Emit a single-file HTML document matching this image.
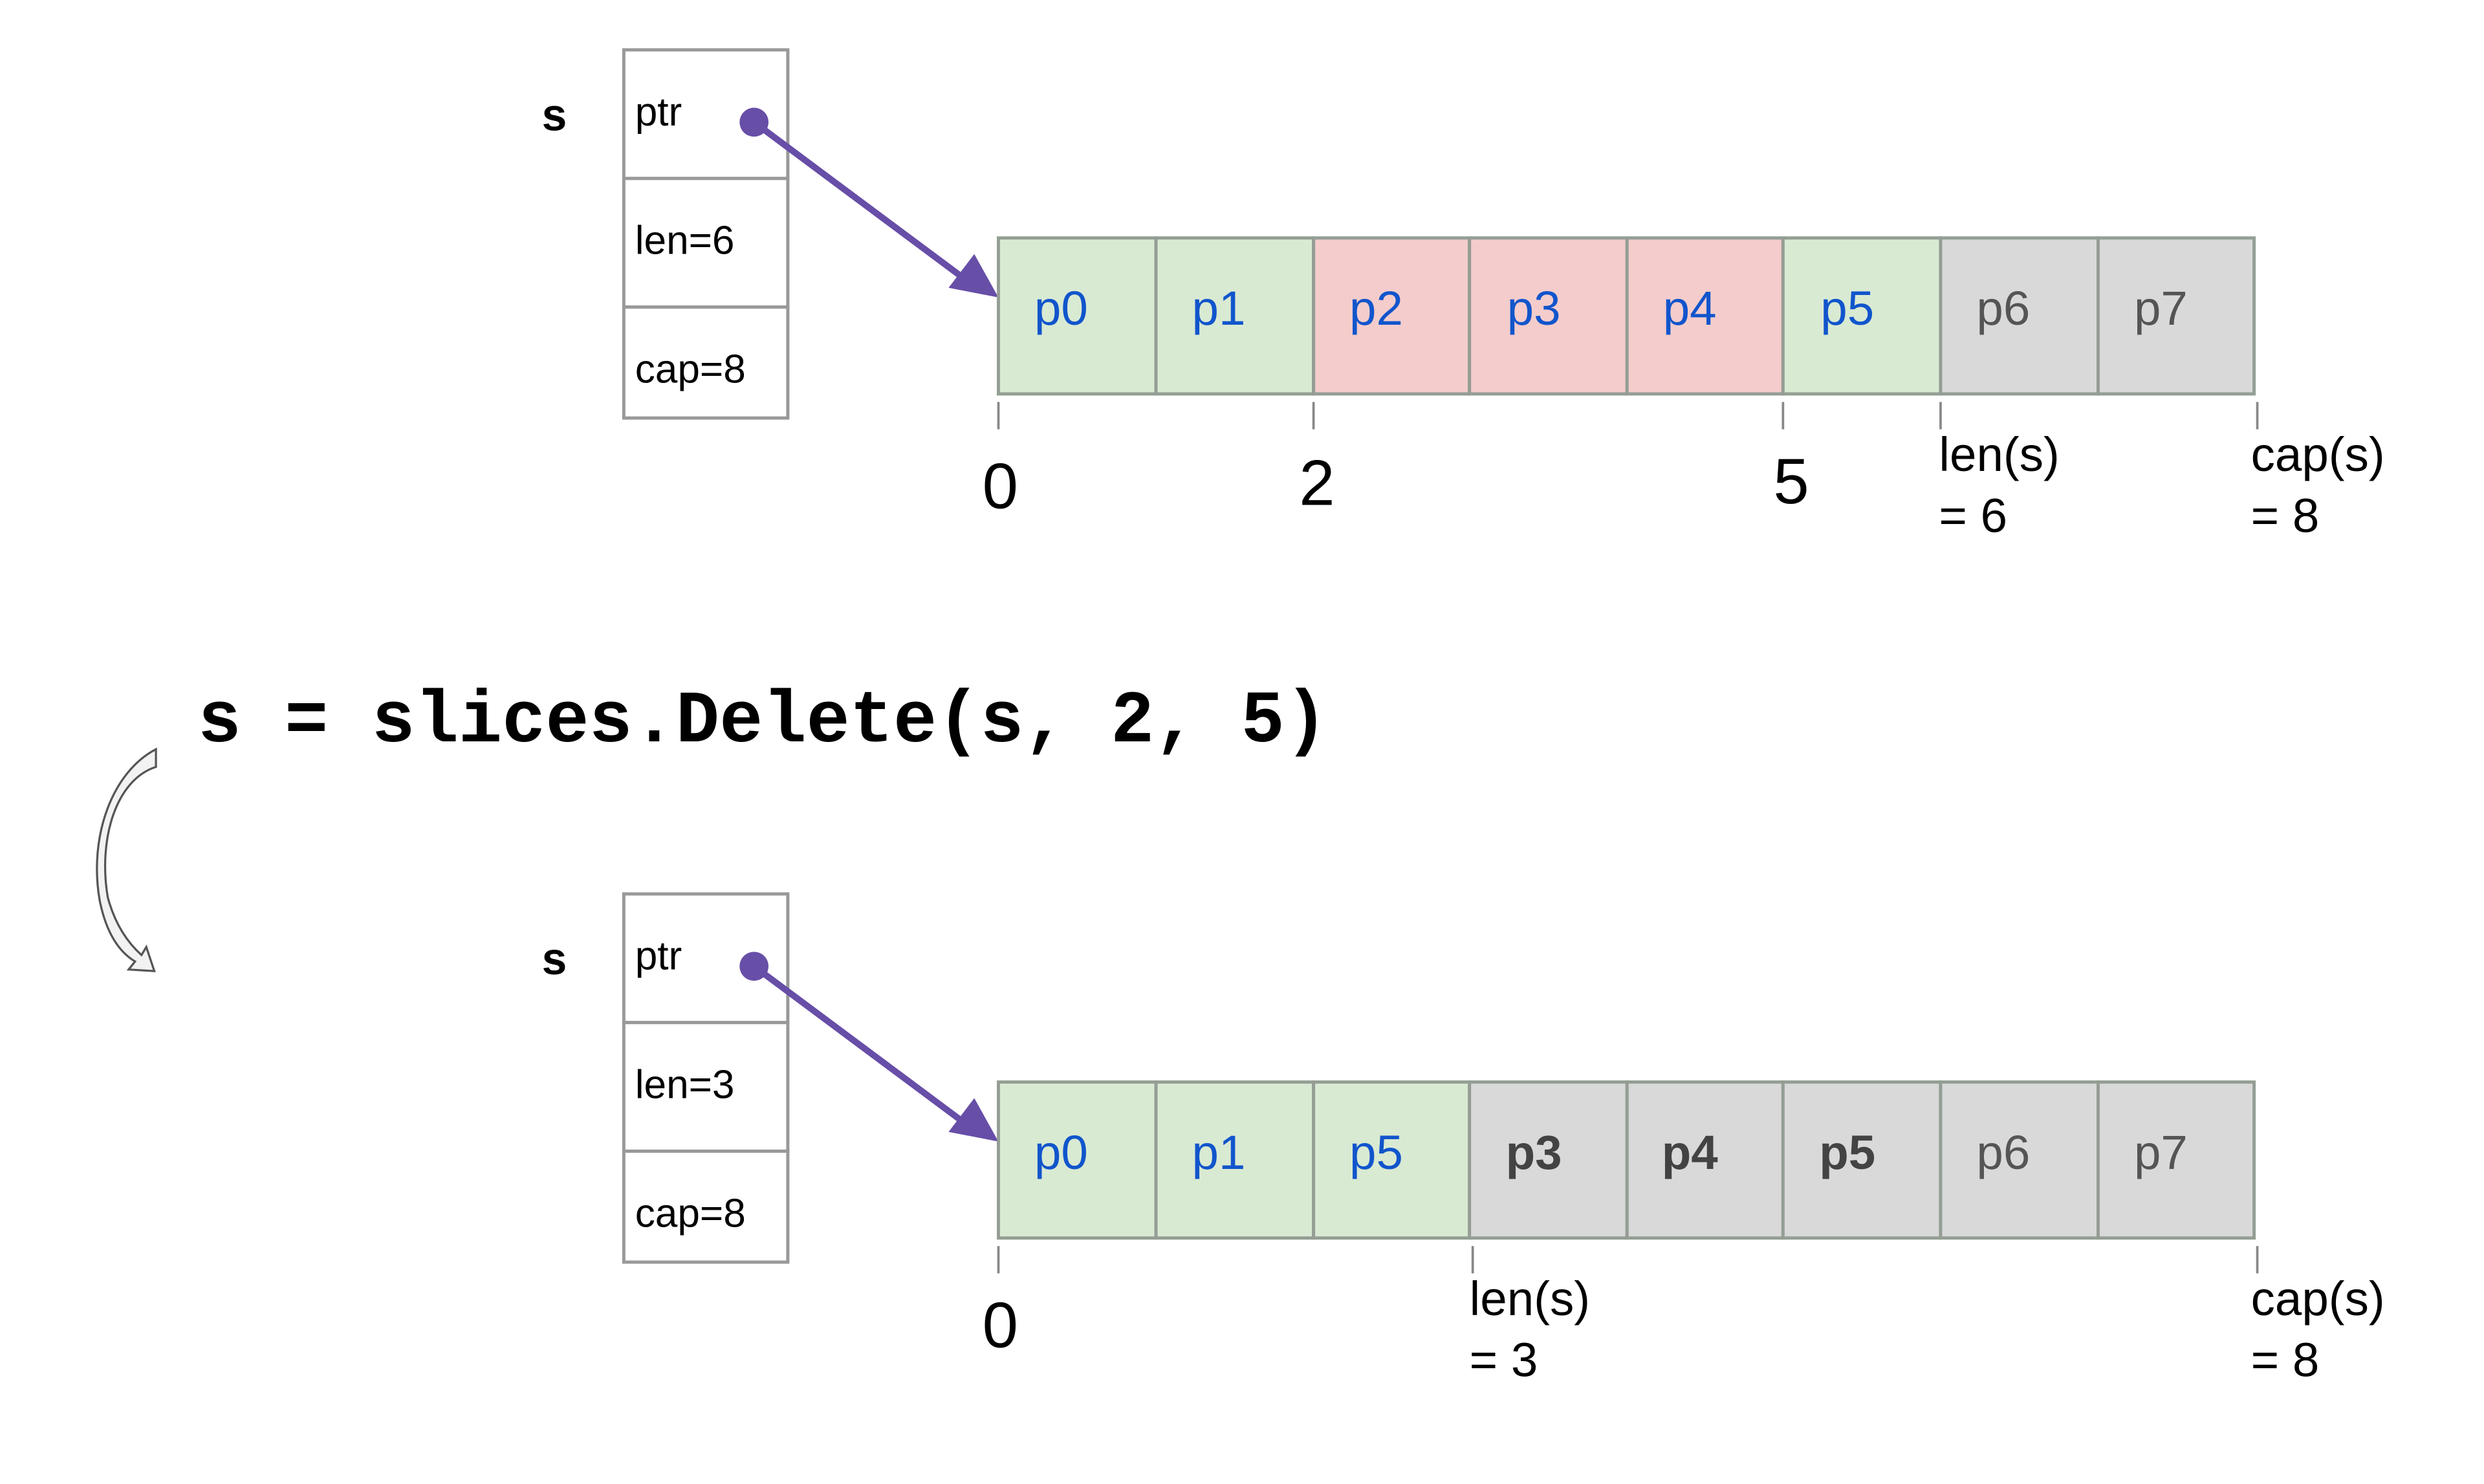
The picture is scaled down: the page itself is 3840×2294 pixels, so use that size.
<!DOCTYPE html>
<html><head><meta charset="utf-8"><style>html,body{margin:0;padding:0;background:#fff;width:3840px;height:2294px;overflow:hidden}</style></head>
<body>
<svg width="3840" height="2294" viewBox="0 0 1545 923" preserveAspectRatio="none" xmlns="http://www.w3.org/2000/svg" font-family="Liberation Sans, sans-serif">
<!-- top struct -->
<text x="337" y="81" font-size="28" font-weight="bold" fill="#000">s</text>
<g fill="#fff" stroke="#999" stroke-width="2">
<rect x="388" y="31" width="102" height="80"/><rect x="388" y="111" width="102" height="80"/><rect x="388" y="191" width="102" height="69"/>
<rect x="388" y="556" width="102" height="80"/><rect x="388" y="636" width="102" height="80"/><rect x="388" y="716" width="102" height="69"/>
</g>
<g font-size="25" fill="#000">
<text x="395" y="78">ptr</text><text x="395" y="158">len=6</text><text x="395" y="238">cap=8</text>
<text x="395" y="603">ptr</text><text x="395" y="683">len=3</text><text x="395" y="763">cap=8</text>
</g>
<text x="337" y="606" font-size="28" font-weight="bold" fill="#000">s</text>
<!-- arrows -->
<g stroke="#674ea7" stroke-width="4" fill="#674ea7">
<circle cx="469" cy="76" r="9" stroke="none"/>
<line x1="469" y1="76" x2="598" y2="172"/>
<path d="M621,185 L590,179 L606,158 z" stroke="none"/>
<circle cx="469" cy="601" r="9" stroke="none"/>
<line x1="469" y1="601" x2="598" y2="697"/>
<path d="M621,710 L590,704 L606,683 z" stroke="none"/>
</g>
<!-- top array -->
<g stroke="#949e94" stroke-width="2">
<rect x="621" y="148" width="98" height="97" fill="#d9ead3"/>
<rect x="719" y="148" width="98" height="97" fill="#d9ead3"/>
<rect x="817" y="148" width="97" height="97" fill="#f4cccc"/>
<rect x="914" y="148" width="98" height="97" fill="#f4cccc"/>
<rect x="1012" y="148" width="97" height="97" fill="#f4cccc"/>
<rect x="1109" y="148" width="98" height="97" fill="#d9ead3"/>
<rect x="1207" y="148" width="98" height="97" fill="#d9d9d9"/>
<rect x="1305" y="148" width="97" height="97" fill="#d9d9d9"/>
</g>
<g font-size="30" fill="#1155cc" text-anchor="middle">
<text x="660" y="202">p0</text><text x="758" y="202">p1</text><text x="856" y="202">p2</text><text x="954" y="202">p3</text><text x="1051" y="202">p4</text><text x="1149" y="202">p5</text>
<text x="1246" y="202" fill="#555">p6</text><text x="1344" y="202" fill="#555">p7</text>
</g>
<g stroke="#888" stroke-width="1.5">
<line x1="621" y1="250" x2="621" y2="267"/><line x1="817" y1="250" x2="817" y2="267"/><line x1="1109" y1="250" x2="1109" y2="267"/><line x1="1207" y1="250" x2="1207" y2="267"/><line x1="1404" y1="250" x2="1404" y2="267"/>
<line x1="621" y1="775" x2="621" y2="792"/><line x1="916" y1="775" x2="916" y2="792"/><line x1="1404" y1="775" x2="1404" y2="792"/>
</g>
<g font-size="40" fill="#000">
<text x="611" y="316">0</text><text x="808" y="314">2</text><text x="1103" y="313">5</text>
<text x="611" y="838">0</text>
</g>
<g font-size="30" fill="#000">
<text x="1206" y="293">len(s)</text><text x="1206" y="331">= 6</text>
<text x="1400" y="293">cap(s)</text><text x="1400" y="331">= 8</text>
<text x="914" y="818">len(s)</text><text x="914" y="856">= 3</text>
<text x="1400" y="818">cap(s)</text><text x="1400" y="856">= 8</text>
</g>
<!-- code -->
<text x="123" y="461" font-family="Liberation Mono, monospace" font-weight="bold" font-size="46" textLength="703" lengthAdjust="spacingAndGlyphs" fill="#000">s = slices.Delete(s, 2, 5)</text>
<!-- curved arrow -->
<path d="M97,466 C70,480 55,520 62,560 C66,580 74,592 84,598 L80,603 L96,604 L91,589 L88,594 C78,585 71,573 67,558 C61,522 72,485 97,477 z" fill="#f2f2f2" stroke="#555" stroke-width="1.3"/>
<!-- bottom array -->
<g stroke="#949e94" stroke-width="2">
<rect x="621" y="673" width="98" height="97" fill="#d9ead3"/>
<rect x="719" y="673" width="98" height="97" fill="#d9ead3"/>
<rect x="817" y="673" width="97" height="97" fill="#d9ead3"/>
<rect x="914" y="673" width="98" height="97" fill="#d9d9d9"/>
<rect x="1012" y="673" width="97" height="97" fill="#d9d9d9"/>
<rect x="1109" y="673" width="98" height="97" fill="#d9d9d9"/>
<rect x="1207" y="673" width="98" height="97" fill="#d9d9d9"/>
<rect x="1305" y="673" width="97" height="97" fill="#d9d9d9"/>
</g>
<g font-size="30" fill="#1155cc" text-anchor="middle">
<text x="660" y="727">p0</text><text x="758" y="727">p1</text><text x="856" y="727">p5</text>
<text x="954" y="727" fill="#434343" font-weight="bold">p3</text><text x="1051" y="727" fill="#434343" font-weight="bold">p4</text><text x="1149" y="727" fill="#434343" font-weight="bold">p5</text>
<text x="1246" y="727" fill="#555">p6</text><text x="1344" y="727" fill="#555">p7</text>
</g>
</svg>
</body></html>
